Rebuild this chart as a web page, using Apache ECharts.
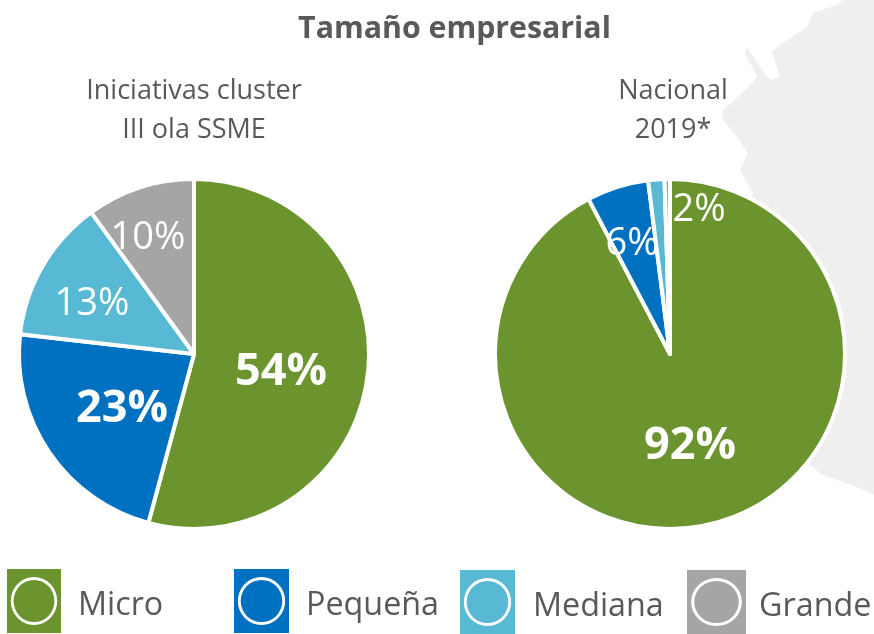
<!DOCTYPE html>
<html><head><meta charset="utf-8">
<style>html,body{margin:0;padding:0;background:#fff}#c{width:874px;height:634px}</style>
<script src="https://cdn.jsdelivr.net/npm/echarts@6/dist/echarts.min.js"></script>
</head><body><div id="c"></div>
<script>
const categories = ['Micro', 'Pequeña', 'Mediana', 'Grande'];
const colors = ['#6b942e', '#0070c0', '#57b9d3', '#a5a5a5'];
const clusterValues = [54.2, 22.6, 13.2, 10];
const nationalValues = [92.3, 5.7, 1.5, 0.5];
const mainTitle = 'Tamaño empresarial';
const clusterTitle = 'Iniciativas cluster\nIII ola SSME';
const nationalTitle = 'Nacional\n2019*';
const FONT = '"Open Sans", sans-serif';
const GREY = '#595959';

// label anchor points [x, y, size]; null = no label
const clusterLabels = [[281,372,45],[122,409,45],[92,304,38],[148,238,38]];
const nationalLabels = [[690,446,45],[632,244,38],[699,210,38],null];
// legend: [icon left, icon top, icon width, icon height]
const legendBoxes = [[7,569,54,64],[234,569,55,64],[460,570,55,64],[687,570,59,64]];
const legendGap = [17,17,18,13];
// decorative map silhouette behind the right pie
const mapShape = [[843,0],[837,5],[813,13],[807,27],[777,47],[772,52],[780,77],[770,80],[760,67],[747,47],[745,53],[757,77],[748,88],[723,110],[723,120],[737,137],[748,153],[740,170],[753,193],[700,330],[807,463],[823,475],[860,488],[874,495],[874,0]];

const ring = (w,h)=>{
  const cx=w/2, cy=h/2, rx=w*0.43, ry=h*0.375, k=0.88;
  const ell=(a,b,sweep)=>`M${cx-a} ${cy}A${a} ${b} 0 1 ${sweep} ${cx+a} ${cy}A${a} ${b} 0 1 ${sweep} ${cx-a} ${cy}Z`;
  return `path://M0 0H${w}V${h}H0Z${ell(rx,ry,0)}${ell(rx*k,ry*k,1)}`;
};

function pie(name, values, center, labels){
  return {
    type:'pie', name, radius:[0,175], center, startAngle:90, clockwise:true, animation:false,
    silent:true, sort:null,
    itemStyle:{borderColor:'#fff',borderWidth:4},
    labelLine:{show:false},
    data: values.map((v,i)=>({
      name:categories[i], value:v,
      itemStyle:{color:colors[i]},
      label: labels[i] ? {show:true,position:'inside',color:'#fff',fontFamily:FONT,
        fontSize:labels[i][2],fontWeight:labels[i][2]>40?700:400,
        formatter:()=>Math.round(v)+'%'} : {show:false}
    })),
    labelLayout:(p)=>{const l=labels[p.dataIndex];return l?{x:l[0],y:l[1],align:'center',verticalAlign:'middle'}:{};}
  };
}

const option = {
  backgroundColor:'#fff',
  title:[
    {text:mainTitle,left:449.5,top:9,textAlign:'center',textStyle:{fontFamily:FONT,fontSize:30.3,fontWeight:700,color:GREY}},
    {text:clusterTitle,left:189,top:67,textAlign:'center',textStyle:{fontFamily:FONT,fontSize:27,fontWeight:400,color:GREY,lineHeight:39}},
    {text:nationalTitle,left:668,top:67,textAlign:'center',textStyle:{fontFamily:FONT,fontSize:27,fontWeight:400,color:GREY,lineHeight:39}}
  ],
  legend: categories.map((c,i)=>({
    data:[{name:c,icon:ring(legendBoxes[i][2],legendBoxes[i][3])}],
    left:legendBoxes[i][0],top:legendBoxes[i][1],padding:0,
    itemWidth:legendBoxes[i][2],itemHeight:legendBoxes[i][3],
    itemStyle:{borderWidth:0,color:colors[i]},selectedMode:false,
    formatter:(n)=>'{n|'+n+'}',
    textStyle:{rich:{n:{fontFamily:FONT,fontSize:32.3,color:GREY,padding:[10,0,0,legendGap[i]-5]}}}
  })),
  graphic:[{type:'polygon',z:-10,silent:true,shape:{points:mapShape},style:{fill:'#efefef'}}],
  series:[
    pie('Iniciativas cluster',clusterValues,[194,354],clusterLabels),
    pie('Nacional',nationalValues,[670,354],nationalLabels)
  ]
};
echarts.init(document.getElementById('c')).setOption(option);
</script></body></html>
